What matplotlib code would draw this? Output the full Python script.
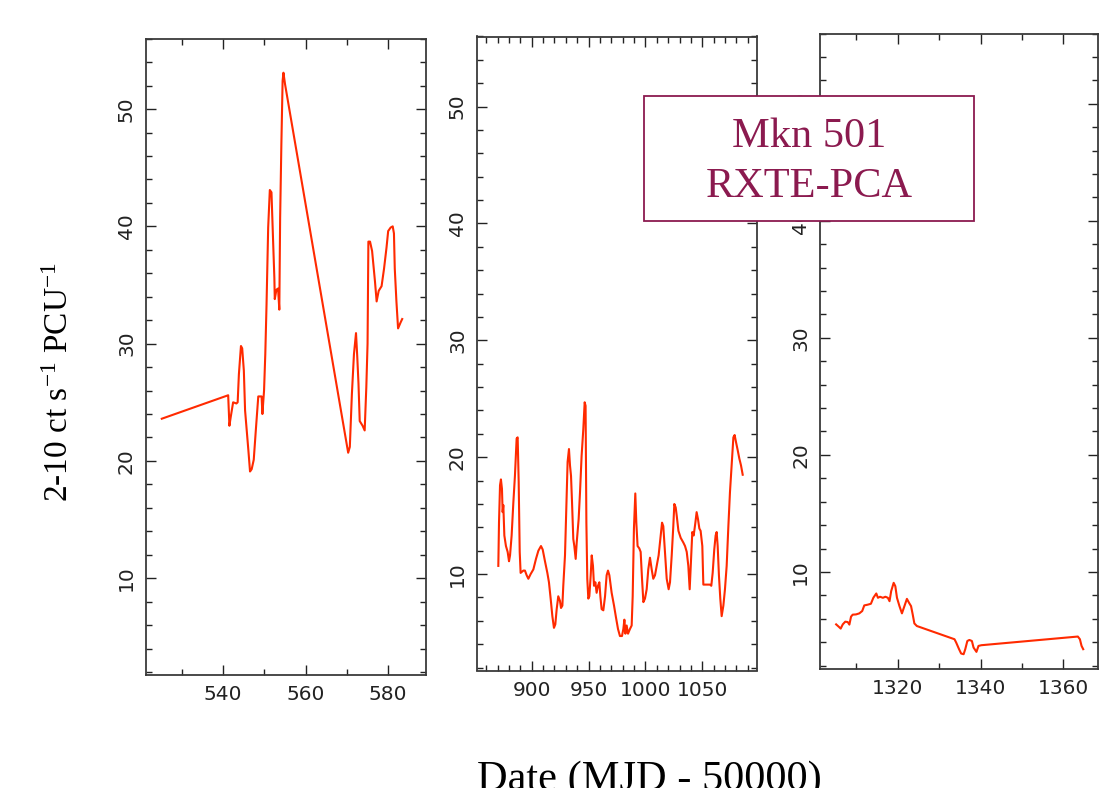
import matplotlib
matplotlib.use("Agg")
import matplotlib.pyplot as plt
from matplotlib.patches import Rectangle
from matplotlib.ticker import MultipleLocator

# ── Data ─────────────────────────────────────────────────────────────────────
p1_mjd = [525.1, 541.2, 541.5, 541.8, 542.4, 543.2, 543.5, 543.8, 544.3, 544.6,
          545.0, 545.3, 545.7, 546.1, 546.5, 546.9, 547.4, 547.9, 548.5, 549.3,
          549.5, 549.9, 550.2, 550.5, 550.9, 551.3, 551.7, 552.1, 552.4, 552.5,
          552.9, 553.3, 553.6, 553.8, 554.1, 554.4, 554.6, 555.0, 570.3, 570.7,
          571.2, 571.7, 572.2, 572.5, 572.8, 573.1, 573.8, 574.3, 574.7, 575.0,
          575.2, 575.6, 576.1, 576.8, 577.2, 577.7, 578.4, 579.0, 579.6, 580.0,
          580.6, 581.1, 581.4, 581.6, 582.0, 582.4, 583.0, 583.4]
p1_rate = [23.6, 25.6, 23.0, 23.7, 25.0, 24.9, 25.0, 27.4, 29.8, 29.6,
           27.7, 24.3, 22.6, 20.9, 19.1, 19.3, 20.1, 22.6, 25.5, 25.5,
           24.0, 26.0, 29.1, 33.3, 39.9, 43.1, 42.9, 38.7, 35.6, 33.8,
           34.6, 34.7, 32.9, 40.7, 47.0, 52.4, 53.1, 52.1, 20.7, 21.2,
           25.7, 29.1, 30.9, 28.9, 26.6, 23.4, 23.0, 22.6, 26.3, 30.0,
           38.7, 38.7, 37.9, 35.3, 33.6, 34.5, 34.9, 36.4, 38.2, 39.6,
           39.9, 40.0, 39.4, 36.4, 33.6, 31.3, 31.8, 32.1]

p2_mjd = [870.7, 871.3, 872.2, 873.0, 873.9, 874.5, 875.1, 876.0, 877.4, 878.9,
          880.1, 881.0, 882.4, 883.9, 885.3, 886.8, 887.7, 888.6, 889.5, 890.3,
          892.7, 894.1, 895.6, 897.1, 899.1, 901.5, 903.8, 905.9, 908.2, 909.7,
          911.7, 913.8, 915.2, 916.7, 918.2, 919.6, 920.8, 922.0, 923.4, 924.9,
          925.8, 927.0, 927.8, 929.3, 930.8, 931.6, 932.8, 933.7, 934.6, 935.5,
          936.6, 937.5, 938.7, 939.6, 940.4, 941.3, 942.5, 943.9, 945.4, 946.6,
          947.4, 948.1, 948.9, 949.8, 950.7, 951.9, 952.8, 953.9, 954.8, 956.0,
          957.1, 958.3, 959.5, 960.4, 961.5, 963.0, 964.5, 965.9, 967.1, 968.3,
          970.3, 972.4, 974.1, 975.9, 977.6, 979.4, 980.6, 981.5, 982.4, 983.5,
          984.7, 986.4, 987.9, 988.8, 989.9, 991.1, 992.0, 993.1, 994.6, 995.8,
          997.0, 998.2, 999.6, 1001.1, 1002.5, 1004.0, 1005.5, 1006.9, 1008.4, 1009.9,
          1011.6, 1013.1, 1014.6, 1015.7, 1017.2, 1018.7, 1020.4, 1021.6, 1023.1, 1024.5,
          1025.4, 1026.6, 1027.5, 1029.0, 1031.0, 1033.3, 1034.8, 1036.3, 1037.7, 1038.9,
          1040.1, 1041.2, 1042.4, 1043.9, 1045.0, 1046.2, 1047.4, 1048.5, 1050.0, 1050.9,
          1052.3, 1054.4, 1056.7, 1057.9, 1059.1, 1060.5, 1061.7, 1062.6, 1063.5, 1064.6,
          1065.8, 1067.0, 1068.5, 1069.9, 1071.4, 1072.9, 1074.3, 1075.8, 1077.3, 1078.4,
          1079.6, 1081.1, 1082.5, 1084.0, 1085.5]
p2_rate = [10.7, 14.4, 17.6, 18.1, 17.3, 15.3, 15.9, 13.3, 12.4, 11.9,
           11.1, 11.6, 13.3, 16.1, 18.4, 21.6, 21.7, 17.9, 11.9, 10.1,
           10.3, 10.3, 9.9, 9.6, 10.0, 10.4, 11.3, 12.0, 12.4, 12.1,
           11.1, 10.1, 9.3, 7.9, 6.4, 5.4, 5.7, 7.0, 8.1, 7.7,
           7.1, 7.3, 9.0, 11.6, 16.7, 19.6, 20.7, 19.3, 18.4, 16.1,
           13.0, 12.4, 11.3, 12.7, 13.6, 14.7, 17.0, 20.1, 22.4, 24.7,
           24.4, 14.4, 9.6, 7.9, 8.1, 9.9, 11.6, 10.7, 9.0, 9.3,
           8.4, 9.0, 9.3, 8.1, 7.0, 6.9, 8.1, 9.9, 10.3, 9.9,
           8.4, 7.3, 6.3, 5.3, 4.7, 4.7, 5.3, 6.1, 4.9, 5.6,
           4.9, 5.3, 5.6, 8.1, 13.9, 16.9, 14.4, 12.4, 12.2, 11.9,
           9.6, 7.6, 7.9, 8.7, 10.4, 11.4, 10.4, 9.6, 9.9, 10.7,
           11.6, 13.0, 14.4, 14.1, 11.9, 9.6, 8.7, 9.3, 11.6, 14.1,
           16.0, 15.7, 15.0, 13.7, 13.1, 12.7, 12.4, 11.9, 10.7, 8.7,
           11.3, 13.6, 13.3, 14.4, 15.3, 14.7, 13.9, 13.7, 12.4, 9.1,
           9.1, 9.1, 9.1, 9.0, 10.1, 12.1, 13.3, 13.6, 12.4, 9.9,
           7.9, 6.4, 7.3, 8.7, 10.7, 14.1, 17.0, 19.3, 21.7, 21.9,
           21.3, 20.6, 19.9, 19.3, 18.5]

p3_mjd = [1305.1, 1305.7, 1306.2, 1306.7, 1307.3, 1307.9, 1308.3, 1308.7, 1309.1, 1309.9,
          1310.7, 1311.4, 1311.9, 1312.7, 1313.5, 1314.1, 1314.8, 1315.2, 1315.7, 1316.4,
          1317.0, 1317.6, 1318.0, 1318.4, 1319.0, 1319.4, 1319.8, 1320.4, 1321.0, 1321.6,
          1322.2, 1322.7, 1323.2, 1323.6, 1324.0, 1324.6, 1333.7, 1334.1, 1334.8, 1335.3,
          1335.9, 1336.3, 1336.8, 1337.3, 1337.9, 1338.3, 1339.0, 1339.5, 1340.2, 1363.5,
          1364.0, 1364.4, 1364.8]
p3_rate = [5.52, 5.33, 5.16, 5.52, 5.75, 5.72, 5.50, 6.18, 6.35, 6.37,
           6.46, 6.66, 7.14, 7.20, 7.28, 7.80, 8.16, 7.79, 7.88, 7.79,
           7.88, 7.79, 7.50, 8.36, 9.07, 8.78, 7.79, 7.08, 6.46, 7.08,
           7.70, 7.37, 7.08, 6.37, 5.60, 5.38, 4.25, 3.97, 3.40, 3.03,
           2.97, 3.40, 4.10, 4.19, 4.10, 3.54, 3.17, 3.68, 3.74, 4.48,
           4.25, 3.68, 3.40]

y_ticks = [10, 20, 30, 40, 50]
y_tick_labels = ["10", "20", "30", "40", "50"]

# ── Figure ───────────────────────────────────────────────────────────────────
W, H = 1101, 788
fig = plt.figure(figsize=(W / 100, H / 100), dpi=100)
fig.patch.set_facecolor("white")

plt.rcParams["mathtext.fontset"] = "custom"
plt.rcParams["mathtext.rm"] = "Liberation Serif"
plt.rcParams["mathtext.it"] = "Liberation Serif:italic"


def px_rect(left, right, top, bottom):
    """Pixel edges (from top-left) -> figure fraction [l, b, w, h]."""
    return [left / W, 1 - bottom / H, (right - left) / W, (bottom - top) / H]


LINE_COLOR = "#ff2a00"
BOX_COLOR = "#8b1a4f"
AX_COLOR = "#3a3a3a"

# (data x, data y, pixel box, xlim, x major, x minor)
panels = [
    (p1_mjd, p1_rate, px_rect(145.7, 425.7, 38.7, 675.0), (521.2, 589.1), 20, 10),
    (p2_mjd, p2_rate, px_rect(476.7, 756.7, 36.5, 670.5), (851.7, 1097.8), 50, 10),
    (p3_mjd, p3_rate, px_rect(820.0, 1097.7, 33.5, 668.5), (1301.2, 1368.3), 20, 10),
]

for x, y, rect, xlim, xmaj, xmin in panels:
    ax = fig.add_axes(rect)
    ax.plot(x, y, color=LINE_COLOR, lw=1.5)
    ax.set_xlim(*xlim)
    ax.set_ylim(1.75, 56.0)

    ax.xaxis.set_major_locator(MultipleLocator(xmaj))
    ax.xaxis.set_minor_locator(MultipleLocator(xmin))
    ax.set_yticks(y_ticks)
    ax.set_yticklabels(y_tick_labels, rotation=90, va="center", ha="right")
    ax.yaxis.set_minor_locator(MultipleLocator(2))

    ax.tick_params(which="both", direction="in", top=True, right=True,
                   color="#222222", width=1.0, labelcolor="#222222",
                   labelsize=14.5)
    ax.tick_params(which="major", length=7.5)
    ax.tick_params(which="minor", length=4.0)
    ax.tick_params(axis="x", pad=7.5)
    ax.tick_params(axis="y", pad=7)

    for spine in ax.spines.values():
        spine.set_edgecolor(AX_COLOR)
        spine.set_linewidth(1.3)

# Label box over panels 2 and 3
box = Rectangle((644.3 / W, 1 - 221.0 / H), (974.3 - 644.3) / W, (221.0 - 96.5) / H,
                transform=fig.transFigure, facecolor="white",
                edgecolor=BOX_COLOR, lw=1.3, zorder=10)
fig.add_artist(box)
fig.text(809.3 / W, 1 - 147.0 / H, "Mkn 501", ha="center", va="baseline",
         fontsize=30.5, family="Liberation Serif", color=BOX_COLOR, zorder=11)
fig.text(809.3 / W, 1 - 197.0 / H, "RXTE-PCA", ha="center", va="baseline",
         fontsize=30.5, family="Liberation Serif", color=BOX_COLOR, zorder=11)

# Axis titles
fig.text(60 / W, 1 - 502.0 / H, r"2-10 ct s$^{-1}$ PCU$^{-1}$",
         rotation=90, ha="center", va="bottom",
         fontsize=24, family="Liberation Serif", color="black")
fig.text(477 / W, -2.0 / H, "Date (MJD - 50000)", ha="left", va="baseline",
         fontsize=30.5, family="Liberation Serif", color="black")

fig.savefig("out.png", dpi=100, facecolor="white")
